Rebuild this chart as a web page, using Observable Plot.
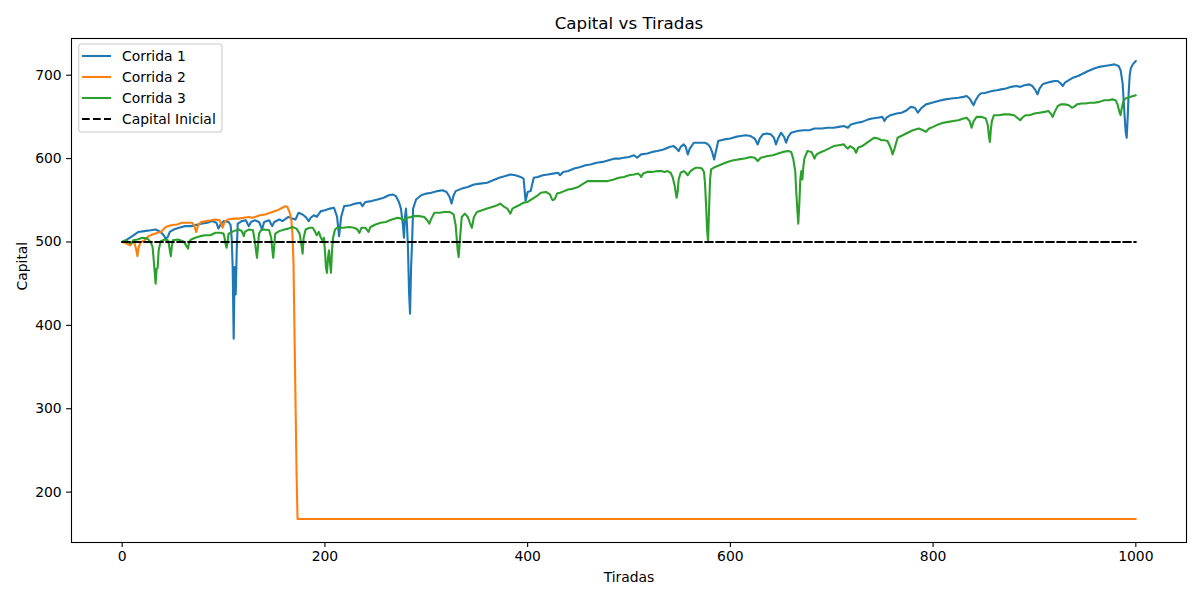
<!DOCTYPE html>
<html>
<head>
<meta charset="utf-8">
<script src="https://cdn.jsdelivr.net/npm/d3@7"></script>
<script src="https://cdn.jsdelivr.net/npm/@observablehq/plot@0.6"></script>
<style>
body { margin: 0; background: #fff; }
</style>
</head>
<body>
<div id="chart"></div>
<script>
// data: [tirada, capital]
const corrida1 = [[0,500],[5,503],[10,507],[16,512],[22,513],[28,514],[33,515],[38,512],[41,508],[43,504],[45,506],[47,512],[51,515],[56,517],[62,519],[68,519],[72,520],[78,522],[84,523],[89,525],[93,523],[95,516],[97,521],[100,525],[105,524],[107,520],[108,505],[109,470],[110,384],[111,470],[112,437],[113,490],[114,522],[118,525],[122,526],[124,521],[125,519],[127,524],[131,526],[135,524],[138,515],[140,524],[145,526],[148,519],[150,524],[155,527],[158,525],[164,530],[168,528],[171,527],[174,535],[178,533],[181,530],[184,525],[186,529],[189,532],[192,530],[196,537],[200,538],[205,540],[209,541],[212,530],[214,507],[216,530],[219,543],[225,544],[230,546],[235,547],[237,543],[240,548],[246,549],[252,551],[258,553],[263,556],[267,557],[270,555],[273,548],[275,540],[277,520],[278,505],[279,530],[280,540],[281,520],[282,490],[283,440],[284,414],[285,469],[286,500],[287,540],[290,551],[295,556],[300,558],[305,559],[311,561],[316,562],[320,560],[323,554],[325,546],[327,556],[329,561],[335,564],[341,566],[347,569],[353,570],[360,571],[366,574],[372,577],[378,579],[383,581],[388,580],[393,578],[396,576],[398,549],[400,560],[403,561],[406,577],[410,578],[415,580],[420,581],[425,582],[430,583],[432,580],[435,584],[440,585],[446,588],[452,590],[457,592],[462,593],[468,595],[474,596],[480,598],[486,600],[491,600],[495,601],[500,602],[505,604],[508,601],[512,605],[518,606],[523,608],[528,609],[534,611],[540,614],[544,615],[547,612],[549,609],[551,614],[554,617],[556,614],[558,605],[560,612],[564,619],[570,619],[575,619],[578,617],[580,614],[582,608],[584,599],[586,610],[588,621],[594,623],[600,624],[605,626],[610,627],[615,628],[620,627],[624,624],[627,617],[629,624],[632,629],[636,630],[640,629],[643,625],[645,617],[647,624],[650,631],[653,626],[655,619],[657,626],[660,631],[666,633],[672,634],[678,634],[683,636],[690,636],[696,637],[702,637],[707,638],[712,639],[716,637],[719,641],[725,643],[730,644],[736,647],[740,648],[745,649],[750,650],[752,645],[754,649],[758,652],[764,654],[769,655],[774,658],[778,662],[782,661],[785,655],[788,660],[793,665],[799,667],[805,669],[812,671],[818,672],[825,673],[830,674],[833,675],[836,672],[838,668],[840,664],[842,670],[845,676],[847,678],[852,679],[858,681],[863,682],[867,683],[872,684],[877,686],[882,687],[886,686],[890,688],[895,689],[898,687],[901,682],[903,677],[905,684],[908,689],[910,690],[916,692],[920,693],[923,693],[926,690],[928,687],[930,691],[934,694],[938,697],[943,699],[948,702],[953,705],[959,708],[964,710],[969,711],[974,712],[979,713],[983,711],[985,706],[987,690],[988,670],[989,650],[990,632],[991,625],[992,650],[993,680],[994,700],[995,708],[997,713],[1000,717]];

const corrida2 = [[0,500],[3,499],[6,497],[8,496],[10,500],[12,499],[14,490],[15,483],[16,492],[18,500],[21,501],[26,507],[30,509],[35,511],[38,512],[43,518],[48,520],[54,521],[59,523],[64,523],[69,523],[71,520],[73,512],[75,520],[78,524],[83,525],[88,526],[92,527],[96,526],[98,521],[99,517],[101,524],[104,527],[110,528],[115,528],[120,529],[125,530],[128,529],[131,530],[136,532],[141,533],[146,535],[151,537],[155,539],[158,541],[161,543],[163,542],[165,536],[166,532],[167,525],[168,508],[169,475],[170,392],[171,309],[172,226],[173,167.7],[1000,167.7]];

const corrida3 = [[0,500],[4,502],[7,499],[9,498],[11,502],[15,503],[20,505],[25,504],[28,500],[30,494],[31,480],[32,465],[33,450],[34,468],[35,469],[36,490],[38,501],[42,503],[45,502],[46,498],[47,490],[48,483],[49,495],[50,502],[55,503],[60,501],[62,498],[64,494],[65,492],[66,500],[68,503],[72,505],[77,507],[82,508],[87,508],[92,511],[97,511],[100,510],[101,505],[102,498],[103,493],[104,500],[105,510],[110,513],[115,515],[118,513],[120,507],[121,512],[125,515],[129,514],[131,500],[132,490],[133,481],[134,495],[135,510],[137,514],[140,515],[145,514],[147,505],[148,492],[149,481],[150,495],[151,510],[155,513],[160,515],[164,516],[168,518],[172,516],[175,510],[177,495],[178,486],[179,505],[181,515],[185,517],[188,517],[190,513],[192,508],[194,512],[196,505],[198,501],[199,505],[200,490],[201,470],[202,463],[203,480],[204,490],[205,475],[206,463],[207,490],[208,505],[210,515],[212,517],[218,517],[224,518],[229,517],[232,515],[234,511],[236,517],[240,517],[243,512],[245,518],[250,521],[255,523],[260,524],[266,527],[272,529],[275,528],[278,526],[281,529],[285,530],[288,531],[293,531],[298,530],[301,526],[303,522],[305,528],[308,535],[313,535],[318,536],[323,536],[327,533],[329,520],[330,505],[331,490],[332,482],[333,500],[335,530],[338,534],[341,530],[343,523],[345,517],[347,530],[350,536],[355,538],[360,540],[365,542],[370,544],[373,546],[377,542],[380,540],[382,536],[383,534],[385,540],[388,542],[393,545],[396,547],[400,548],[405,552],[410,556],[413,559],[418,560],[422,557],[424,551],[425,550],[427,552],[429,558],[432,559],[436,561],[440,563],[445,564],[450,566],[455,570],[459,573],[465,573],[470,573],[475,573],[479,573],[485,575],[490,577],[495,578],[500,580],[505,581],[509,582],[511,580],[512,578],[514,582],[518,584],[523,584],[528,585],[532,585],[535,584],[538,585],[541,583],[543,578],[545,568],[546,560],[547,553],[548,560],[549,575],[551,583],[554,585],[556,583],[558,580],[560,584],[563,587],[566,589],[569,589],[572,588],[574,584],[575,570],[576,545],[577,515],[578,501],[579,540],[580,575],[581,587],[585,590],[591,593],[597,596],[603,598],[608,599],[614,600],[620,602],[624,601],[627,597],[630,601],[633,602],[637,603],[642,604],[647,606],[652,608],[657,609],[660,608],[662,600],[664,585],[665,560],[666,540],[667,522],[668,545],[669,575],[670,585],[671,575],[672,590],[673,600],[676,609],[680,608],[682,603],[683,600],[685,605],[688,607],[692,609],[697,612],[702,615],[707,616],[712,617],[714,614],[716,612],[718,615],[722,612],[724,607],[726,613],[730,615],[736,620],[742,625],[746,624],[749,622],[752,622],[755,621],[757,616],[759,610],[760,605],[762,612],[765,625],[770,628],[775,631],[780,634],[786,636],[790,634],[793,632],[796,636],[800,638],[805,641],[810,643],[815,644],[820,645],[825,646],[830,648],[833,649],[836,645],[838,637],[840,645],[843,650],[848,650],[852,648],[854,640],[855,628],[856,620],[857,635],[858,645],[860,652],[865,652],[870,653],[875,653],[880,652],[883,649],[886,646],[888,649],[891,652],[895,652],[900,654],[905,655],[910,656],[914,657],[916,654],[918,650],[920,656],[923,663],[926,665],[930,665],[934,664],[937,661],[939,662],[942,665],[946,666],[950,666],[955,667],[959,667],[964,668],[969,670],[973,670],[977,671],[980,670],[982,665],[984,655],[985,652],[986,660],[988,670],[990,672],[995,674],[1000,676]];

const capitalInicial = 500;
const tiradasRange = [0, 1000];
const seriesNames = ['Corrida 1', 'Corrida 2', 'Corrida 3'];
const seriesColors = ['#1f77b4', '#ff7f0e', '#2ca02c'];
const xTicks = [0, 200, 400, 600, 800, 1000];
const yTicks = [200, 300, 400, 500, 600, 700];


// long table
const rows = [];
[corrida1, corrida2, corrida3].forEach((serie, i) => {
	serie.forEach(([t, c]) => rows.push({corrida: seriesNames[i], tirada: t, capital: c}));
});
const baseline = tiradasRange.map(t => ({tirada: t, capital: capitalInicial}));


// plot
let fig = Plot.plot({
	width: 1200,
	height: 600,
	marginLeft: 71,
	marginRight: 14,
	marginTop: 38,
	marginBottom: 58,
	style: {fontFamily: 'DejaVu Sans', fontSize: '13.9px', color: 'black', background: 'white'},
	x: {domain: [-50, 1050]},
	y: {domain: [139.6, 744]},
	color: {domain: seriesNames, range: seriesColors},
	marks: [
		Plot.frame({stroke: 'black', strokeWidth: 1.1}),
		Plot.axisX({ticks: xTicks, tickFormat: d => String(d), tickSize: 4.9, tickPadding: 4, label: null, strokeWidth: 1.1}),
		Plot.axisY({ticks: yTicks, tickFormat: d => String(d), tickSize: 4.9, tickPadding: 4.9, label: null, strokeWidth: 1.1}),
		Plot.line(rows, {x: 'tirada', y: 'capital', z: 'corrida', stroke: 'corrida', strokeWidth: 2.1}),
		Plot.line(baseline, {x: 'tirada', y: 'capital', stroke: 'black', strokeWidth: 2.1, strokeDasharray: '7.7,3.3'}),
		Plot.text(['Capital vs Tiradas'], {frameAnchor: 'top', dy: -15, fontSize: 16.7, lineAnchor: 'middle'}),
		Plot.text(['Tiradas'], {frameAnchor: 'bottom', dy: 35, lineAnchor: 'middle'}),
		Plot.text(['Capital'], {frameAnchor: 'left', dx: -49, rotate: -90, lineAnchor: 'middle'})
	]
});

document.querySelector('#chart').append(fig);


// legend inside the axes, upper left
const lg = d3.select(fig).append('g').attr('transform', 'translate(78.7,44)');
lg.append('rect')
	.attr('width', 143.3).attr('height', 88).attr('rx', 2.8)
	.attr('fill', 'white').attr('fill-opacity', 0.8)
	.attr('stroke', '#cccccc').attr('stroke-width', 1.1);
const legendItems = seriesNames.map((n, i) => ({name: n, color: seriesColors[i], dash: null}))
	.concat([{name: 'Capital Inicial', color: 'black', dash: '7.7,3.3'}]);
legendItems.forEach((d, i) => {
	const y = 12 + 21 * i;
	lg.append('line')
		.attr('x1', 3.3).attr('x2', 32.3).attr('y1', y).attr('y2', y)
		.attr('stroke', d.color).attr('stroke-width', 2.1)
		.attr('stroke-dasharray', d.dash);
	lg.append('text')
		.attr('x', 43.3).attr('y', y).attr('dy', '0.35em')
		.attr('text-anchor', 'start')
		.attr('fill', 'black')
		.text(d.name);
});
</script>
</body>
</html>
